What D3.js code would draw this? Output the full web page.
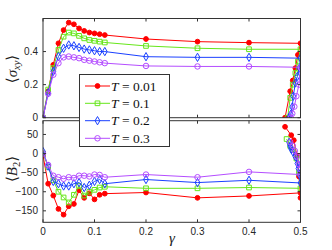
<!DOCTYPE html>
<html>
<head>
<meta charset="utf-8">
<title>sigma_xy and B2 vs gamma</title>
<style>
  body { margin: 0; background: #fff; }
  text { font-family: "Liberation Sans", Arial, sans-serif; }
  .tex { font-family: "Liberation Serif", "DejaVu Serif", serif; }
</style>
</head>
<body>
<script src="https://d3js.org/d3.v7.min.js"></script>
<svg width="332" height="250" id="mainsvg"></svg>
<script>
// shared gamma grid (main part of each curve)
const gamma = [0, 0.01, 0.02, 0.03, 0.04, 0.05, 0.06, 0.07, 0.08, 0.09, 0.10, 0.11, 0.12, 0.2, 0.3, 0.4, 0.5];
const temps = ['0.01', '0.1', '0.2', '0.3'];
const colors = ['#ff0000', '#66e61a', '#1a40ff', '#b44dff'];

// <sigma_xy>, top panel
const sxy01 = [0, 0.16, 0.32, 0.45, 0.53, 0.575, 0.565, 0.54, 0.525, 0.515, 0.51, 0.505, 0.5, 0.476, 0.46, 0.454, 0.45];
const sxy1 = [0, 0.17, 0.30, 0.41, 0.49, 0.515, 0.51, 0.495, 0.48, 0.47, 0.465, 0.46, 0.455, 0.434, 0.42, 0.414, 0.414];
const sxy2 = [0, 0.15, 0.28, 0.37, 0.42, 0.44, 0.435, 0.425, 0.415, 0.41, 0.405, 0.40, 0.40, 0.369, 0.365, 0.365, 0.36];
const sxy3 = [0, 0.145, 0.26, 0.33, 0.365, 0.37, 0.365, 0.36, 0.35, 0.345, 0.34, 0.335, 0.33, 0.313, 0.31, 0.31, 0.305];
// points near gamma=0.5, drawn after 0.5 going back
const sxyTailG01 = [0.495, 0.49, 0.485, 0.48, 0.47];
const sxyTail01 = [0.38, 0.30, 0.225, 0.16, 0];
const sxyTailG1 = [0.495, 0.49, 0.485, 0.48, 0.475];
const sxyTail1 = [0.34, 0.27, 0.2, 0.12, 0];
const sxyTailG2 = [0.498, 0.494, 0.49, 0.486, 0.484, 0.481, 0.478];
const sxyTail2 = [0.3, 0.25, 0.21, 0.13, 0.065, 0.02, 0];
const sxyTailG3 = [0.497, 0.492, 0.488, 0.484, 0.481];
const sxyTail3 = [0.2, 0.13, 0.067, 0.025, 0];

// <B2>, bottom panel
const b2_01 = [-5, -79, -110, -145, -160, -138, -132, -96, -116, -104, -120, -108, -105, -102, -116, -111, -103];
const b2_1 = [0, -35, -70, -100, -115, -128, -108, -85, -110, -100, -95, -89, -87, -91, -91, -89, -91];
const b2_2 = [5, -33, -73, -79, -85, -85, -79, -76, -89, -83, -73, -68, -79, -68, -76, -70, -77];
const b2_3 = [0, -30, -58, -62, -66, -62, -64, -58, -58, -60, -55, -56, -62, -55, -62, -48, -55];
const b2TailG01 = [0.5, 0.497, 0.493, 0.487, 0.482, 0.47];
const b2Tail01 = [-116, -60, -5, 35, 48, 70];
const b2TailG1 = [0.497, 0.492, 0.485, 0.48, 0.473];
const b2Tail1 = [-50, -13, 10, 20, 38];
const b2TailG2 = [0.498, 0.496, 0.494, 0.49, 0.485, 0.482, 0.48, 0.478];
const b2Tail2 = [-56, -39, -26, -8, 5, 12, 20, 29];
const b2TailG3 = [0.5, 0.497, 0.493, 0.489, 0.485, 0.48];
const b2Tail3 = [-41, -28, -8, 7, 20, 30];

const xTicks = [0, 0.1, 0.2, 0.3, 0.4, 0.5];
const topTicks = [0, 0.2, 0.4];
const botTicks = [50, 0, -50, -100, -150];

const svg = d3.select('#mainsvg');
const axisCol = '#333';

const x = d3.scaleLinear().domain([0, 0.5]).range([43, 300.5]);
const yTop = d3.scaleLinear().domain([0, 0.6]).range([117.7, 18.5]);
const yBot = d3.scaleLinear().domain([-180, 86]).range([222.3, 120.7]);

function pts(g, v, tg, tv) {
    const a = g.map((d, i) => [d, v[i]]);
    return a.concat(tg.map((d, i) => [d, tv[i]]));
}
const topSeries = [
    pts(gamma, sxy01, sxyTailG01, sxyTail01),
    pts(gamma, sxy1, sxyTailG1, sxyTail1),
    pts(gamma, sxy2, sxyTailG2, sxyTail2),
    pts(gamma, sxy3, sxyTailG3, sxyTail3)
];
const botSeries = [
    pts(gamma, b2_01, b2TailG01, b2Tail01),
    pts(gamma, b2_1, b2TailG1, b2Tail1),
    pts(gamma, b2_2, b2TailG2, b2Tail2),
    pts(gamma, b2_3, b2TailG3, b2Tail3)
];

// marker per series
const markers = [
    d3.symbol().type(d3.symbolCircle).size(18),
    d3.symbol().type(d3.symbolSquare).size(22),
    d3.symbol().type(d3.symbolDiamond).size(20),
    d3.symbol().type(d3.symbolCircle).size(24)
];

function drawPanel(y, series, yt, id, showXLabels) {
    const [x0, x1] = x.range();
    const [y0, y1] = [y.range()[1], y.range()[0]];
    svg.append('clipPath').attr('id', id)
        .append('rect').attr('x', x0).attr('y', y0).attr('width', x1 - x0).attr('height', y1 - y0);

    const g = svg.append('g');
    const plot = g.append('g').attr('clip-path', `url(#${id})`);
    const line = d3.line().x(d => x(d[0])).y(d => y(d[1]));

    series.forEach((s, i) => {
        plot.append('path').datum(s)
            .attr('d', line).attr('fill', 'none')
            .attr('stroke', colors[i]).attr('stroke-width', 1);
        plot.selectAll(null).data(s).join('path')
            .attr('transform', d => `translate(${x(d[0])},${y(d[1])})`)
            .attr('d', markers[i])
            .attr('fill', i === 0 ? colors[i] : 'none')
            .attr('stroke', colors[i]).attr('stroke-width', 1);
    });

    // box + inward ticks (both sides)
    g.append('rect').attr('x', x0).attr('y', y0).attr('width', x1 - x0).attr('height', y1 - y0)
        .attr('fill', 'none').attr('stroke', axisCol).attr('stroke-width', 1);
    const tl = 3;
    xTicks.forEach(t => {
        g.append('line').attr('x1', x(t)).attr('x2', x(t)).attr('y1', y1).attr('y2', y1 - tl).attr('stroke', axisCol);
        g.append('line').attr('x1', x(t)).attr('x2', x(t)).attr('y1', y0).attr('y2', y0 + tl).attr('stroke', axisCol);
        if (showXLabels) {
            g.append('text').attr('x', x(t)).attr('y', y1 + 12.5)
                .attr('text-anchor', 'middle').attr('font-size', 10).attr('fill', '#262626')
                .text(t === 0 ? '0' : d3.format('.1f')(t));
        }
    });
    yt.forEach(t => {
        g.append('line').attr('x1', x0).attr('x2', x0 + tl).attr('y1', y(t)).attr('y2', y(t)).attr('stroke', axisCol);
        g.append('line').attr('x1', x1).attr('x2', x1 - tl).attr('y1', y(t)).attr('y2', y(t)).attr('stroke', axisCol);
        g.append('text').attr('x', x0 - 5).attr('y', y(t) + 3.5)
            .attr('text-anchor', 'end').attr('font-size', 10).attr('fill', '#262626')
            .text(t === 0 ? '0' : (Math.abs(t) < 1 ? d3.format('.1f')(t) : d3.format('d')(t)).replace('-', '\u2212'));
    });
}

drawPanel(yTop, topSeries, topTicks, 'clipTop', false);
drawPanel(yBot, botSeries, botTicks, 'clipBot', true);

// axis labels
const ylab1 = svg.append('text').attr('class', 'tex').attr('font-size', 15)
    .attr('transform', 'translate(17,69) rotate(-90)').attr('text-anchor', 'middle').attr('fill', '#222');
ylab1.append('tspan').text('\u27E8');
ylab1.append('tspan').attr('font-style', 'italic').text('\u03C3');
ylab1.append('tspan').attr('font-style', 'italic').attr('font-size', 10.5).attr('dy', 3).text('xy');
ylab1.append('tspan').attr('dy', -3).text('\u27E9');

const ylab2 = svg.append('text').attr('class', 'tex').attr('font-size', 15)
    .attr('transform', 'translate(17,169) rotate(-90)').attr('text-anchor', 'middle').attr('fill', '#222');
ylab2.append('tspan').text('\u27E8');
ylab2.append('tspan').attr('font-style', 'italic').text('B');
ylab2.append('tspan').attr('font-size', 10.5).attr('dy', 3).text('2');
ylab2.append('tspan').attr('dy', -3).text('\u27E9');

svg.append('text').attr('class', 'tex').attr('x', 172).attr('y', 243)
    .attr('text-anchor', 'middle').attr('font-size', 15).attr('font-style', 'italic').attr('fill', '#222')
    .text('\u03B3');

// legend
const lg = svg.append('g');
lg.append('rect').attr('x', 79.5).attr('y', 74.5).attr('width', 90).attr('height', 72)
    .attr('fill', '#fff').attr('stroke', axisCol).attr('stroke-width', 1);
const rowY = [86, 103.3, 120.7, 138.3];
temps.forEach((t, i) => {
    lg.append('line').attr('x1', 85).attr('x2', 110).attr('y1', rowY[i]).attr('y2', rowY[i])
        .attr('stroke', colors[i]).attr('stroke-width', 1);
    lg.append('path').attr('transform', `translate(97.5,${rowY[i]})`).attr('d', markers[i])
        .attr('fill', i === 0 ? colors[i] : 'none').attr('stroke', colors[i]);
    const tx = lg.append('text').attr('class', 'tex').attr('x', 111).attr('y', rowY[i] + 4.5)
        .attr('font-size', 13.5).attr('fill', '#111');
    tx.append('tspan').attr('font-style', 'italic').text('T');
    tx.append('tspan').text(' = ' + t);
});
</script>
</body>
</html>
